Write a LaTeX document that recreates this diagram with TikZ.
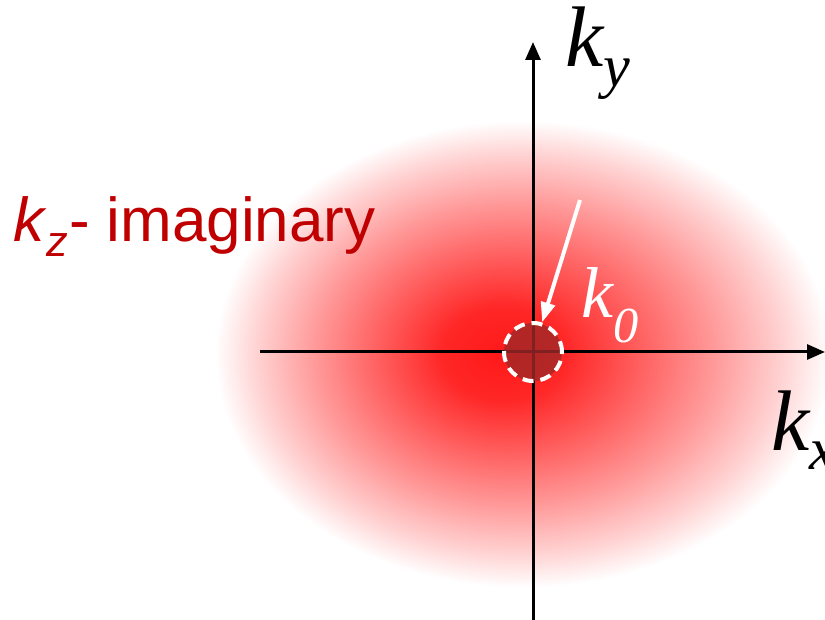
\documentclass[tikz,border=0pt]{standalone}
\usepackage{fontspec}
\setmainfont{Liberation Serif}
\newfontfamily\arialfont{Liberation Sans}
\usetikzlibrary{arrows.meta}
\definecolor{glowred}{RGB}{255,25,25}
\definecolor{labelred}{RGB}{192,0,0}
\definecolor{spotred}{RGB}{160,40,40}
\pgfdeclareradialshading{glow}{\pgfpoint{-4bp}{0bp}}{%
  color(0bp)=(glowred); color(4bp)=(glowred!94!white);
  color(8bp)=(glowred!72!white); color(13bp)=(glowred!44!white);
  color(17bp)=(glowred!20!white); color(20bp)=(white); color(50bp)=(white)}
\begin{document}
\begin{tikzpicture}[
                x=1pt, y=-1pt,
                axis/.style={line width=3pt, -{Triangle[length=18pt,width=15pt]}},
                klabel/.style={anchor=base west, inner sep=0pt, font=\fontsize{86}{96}\selectfont\itshape},
                spot/.style={circle, minimum size=58pt, inner sep=0pt, draw=white, line width=4pt,
                  dash pattern=on 11pt off 7pt, fill=spotred, fill opacity=0.8, draw opacity=1}
                ]
                \useasboundingbox (0,0) rectangle (825,620);
                % Reciprocal plane with the evanescent glow
                \shade[shading=glow] (560,354) ellipse [x radius=385, y radius=292];
                \coordinate (o) at (533,352);
                \coordinate (xstart) at (260,352);
                \coordinate (xend) at (825,352);
                \coordinate (ystart) at (533,620);
                \coordinate (yend) at (533,42);
                \draw[axis] (xstart) -- (xend);
                \draw[axis] (ystart) -- (yend);
                \node[spot] (k0spot) at (o) {};
                \coordinate (k0tail) at (580,200);
                \draw[white, line width=4pt, -{Triangle[length=20pt,width=14pt]}] (k0tail) -- (k0spot);
                \node[klabel] (ky) at (565,67) {k\textsubscript{y}};
                \node[klabel] (kx) at (771,450) {k\textsubscript{x}};
                \node[klabel, text=white, font=\fontsize{72}{80}\selectfont\itshape] (k0) at (581,318)
                  {k\textsubscript{0}};
                \node[anchor=base west, inner sep=0pt, text=labelred, font=\arialfont\fontsize{62}{70}\selectfont]
                  (kz) at (13,242) {\textit{k}\textsubscript{\textit{z}}- imaginary};
            \end{tikzpicture}
\end{document}
